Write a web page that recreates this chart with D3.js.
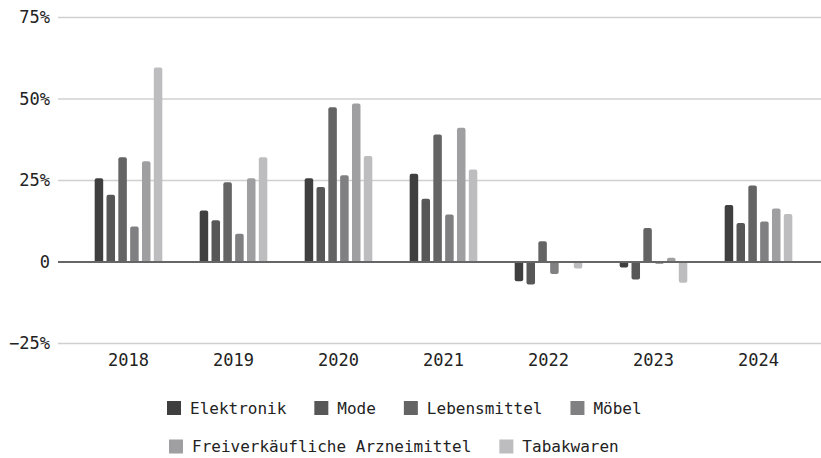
<!DOCTYPE html>
<html>
<head>
<meta charset="utf-8">
<script src="https://cdn.jsdelivr.net/npm/d3@7"></script>
<style>
  body { margin: 0; background: #fff; }
  text { font-family: "DejaVu Sans Mono", "Liberation Mono", monospace; fill: #222; }
</style>
</head>
<body>
<svg id="chart" width="821" height="458"></svg>
<script>
const years = ["2018", "2019", "2020", "2021", "2022", "2023", "2024"]
const seriesNames = ["Elektronik", "Mode", "Lebensmittel", "Möbel", "Freiverkäufliche Arzneimittel", "Tabakwaren"]
const elektronik = [25.7, 15.8, 25.7, 27.1, -5.9, -1.7, 17.5]
const mode = [20.6, 12.8, 23.0, 19.4, -6.9, -5.4, 12.0]
const lebensmittel = [32.1, 24.5, 47.5, 39.1, 6.4, 10.4, 23.5]
const moebel = [10.9, 8.7, 26.6, 14.6, -3.7, -0.5, 12.4]
const arzneimittel = [30.9, 25.7, 48.6, 41.2, -0.3, 1.3, 16.4]
const tabakwaren = [59.7, 32.1, 32.5, 28.4, -2.0, -6.4, 14.7]
const yTicks = [-25, 0, 25, 50, 75]
const colors = ["#3f3f3f", "#575757", "#646464", "#808082", "#9f9fa1", "#bdbdbf"]

const seriesValues = [elektronik, mode, lebensmittel, moebel, arzneimittel, tabakwaren]

const svg = d3.select('#chart')
const plotLeft = 58, plotRight = 821

const y = d3.scaleLinear().domain([-25, 75]).range([343.5, 17.5])
const x0 = d3.scaleBand().domain(years).range([76, 811]).paddingInner(0)
const x1 = d3.scaleBand().domain(seriesNames).range([0, 70]).paddingInner(0.28).paddingOuter(0.1)

// grid
svg.append('g')
  .selectAll('line')
  .data(yTicks.filter(t => t !== 0))
  .join('line')
  .attr('x1', plotLeft).attr('x2', plotRight)
  .attr('y1', d => y(d)).attr('y2', d => y(d))
  .attr('stroke', '#d0d0d0')
  .attr('stroke-width', 1.5)

svg.append('g')
  .selectAll('text')
  .data(yTicks)
  .join('text')
  .attr('x', 50)
  .attr('y', d => y(d))
  .attr('dy', '0.35em')
  .attr('text-anchor', 'end')
  .style('font-size', '17px')
  .text(d => d === 0 ? '0' : (d < 0 ? '\u2212' + Math.abs(d) : d) + '%')

// bars with rounded tip
function barPath(xl, w, v) {
  const y0 = y(0), yv = y(v)
  const r = Math.min(2, Math.abs(y0 - yv) / 2, w / 2)
  if (v >= 0) {
    return `M${xl},${y0}V${yv + r}Q${xl},${yv} ${xl + r},${yv}H${xl + w - r}Q${xl + w},${yv} ${xl + w},${yv + r}V${y0}Z`
  }
  return `M${xl},${y0}V${yv - r}Q${xl},${yv} ${xl + r},${yv}H${xl + w - r}Q${xl + w},${yv} ${xl + w},${yv - r}V${y0}Z`
}

const groups = svg.append('g')
  .selectAll('g')
  .data(years)
  .join('g')
  .attr('transform', d => `translate(${x0(d) + x0.bandwidth() / 2 - 35},0)`)

groups.selectAll('path')
  .data((yr, i) => seriesNames.map((s, j) => ({s, j, v: seriesValues[j][i]})))
  .join('path')
  .attr('d', d => barPath(x1(d.s), x1.bandwidth(), d.v))
  .attr('fill', d => colors[d.j])

// zero line
svg.append('line')
  .attr('x1', plotLeft).attr('x2', plotRight)
  .attr('y1', y(0)).attr('y2', y(0))
  .attr('stroke', '#666')
  .attr('stroke-width', 2)

// x labels
svg.append('g')
  .selectAll('text')
  .data(years)
  .join('text')
  .attr('x', d => x0(d) + x0.bandwidth() / 2)
  .attr('y', 360)
  .attr('dy', '0.35em')
  .attr('text-anchor', 'middle')
  .style('font-size', '17px')
  .text(d => d)

// legend
const legendRows = [
  {start: 167, y: 408, items: [0, 1, 2, 3]},
  {start: 169, y: 446.5, items: [4, 5]}
]
legendRows.forEach(row => {
  let cx = row.start
  row.items.forEach(j => {
    svg.append('rect')
      .attr('x', cx).attr('y', row.y - 7)
      .attr('width', 14).attr('height', 14)
      .attr('fill', colors[j])
    const t = svg.append('text')
      .attr('x', cx + 23).attr('y', row.y)
      .attr('dy', '0.35em')
      .style('font-size', '16px')
      .text(seriesNames[j])
    cx += 23 + t.node().getComputedTextLength() + 28
  })
})
</script>
</body>
</html>
